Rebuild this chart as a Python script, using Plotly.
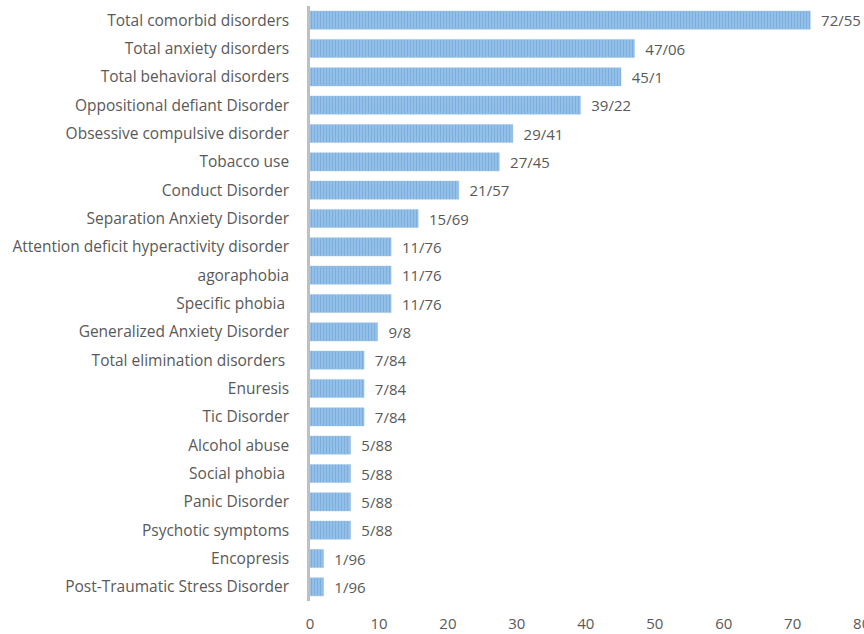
import plotly.graph_objects as go

categories = [
    "Total comorbid disorders", "Total anxiety disorders", "Total behavioral disorders",
    "Oppositional defiant Disorder", "Obsessive compulsive disorder", "Tobacco use",
    "Conduct Disorder", "Separation Anxiety Disorder",
    "Attention deficit hyperactivity disorder", "agoraphobia", "Specific phobia ",
    "Generalized Anxiety Disorder", "Total elimination disorders ", "Enuresis",
    "Tic Disorder", "Alcohol abuse", "Social phobia ", "Panic Disorder",
    "Psychotic symptoms", "Encopresis", "Post-Traumatic Stress Disorder",
]
values = [72.55, 47.06, 45.1, 39.22, 29.41, 27.45, 21.57, 15.69, 11.76, 11.76, 11.76,
          9.8, 7.84, 7.84, 7.84, 5.88, 5.88, 5.88, 5.88, 1.96, 1.96]
value_labels = ["72/55", "47/06", "45/1", "39/22", "29/41", "27/45", "21/57", "15/69",
                "11/76", "11/76", "11/76", "9/8", "7/84", "7/84", "7/84", "5/88", "5/88",
                "5/88", "5/88", "1/96", "1/96"]
x_ticks = [0, 10, 20, 30, 40, 50, 60, 70, 80]

font_family = "Open Sans, Liberation Sans, sans-serif"
text_color = "#595959"

fig = go.Figure(go.Bar(
    x=values,
    y=categories,
    orientation="h",
    text=["  " + t for t in value_labels],
    textposition="outside",
    constraintext="none",
    cliponaxis=False,
    textfont=dict(family=font_family, size=15, color=text_color),
    marker=dict(
        color="#8DB8E2",
        line=dict(color="#9DC3E6", width=0.5),
        pattern=dict(shape="|", fgcolor="#5B9BD5", bgcolor="#9CC3E8", size=3, solidity=0.5),
    ),
    width=0.64,
))

fig.update_layout(
    width=864, height=634,
    margin=dict(l=310, r=2, t=6, b=33, autoexpand=False),
    paper_bgcolor="white", plot_bgcolor="white",
    showlegend=False,
    font=dict(family=font_family, size=15.5, color=text_color),
    xaxis=dict(
        range=[0, 80.05], tickvals=x_ticks, showgrid=False, zeroline=False,
        showline=False, ticks="", ticklabelstandoff=12, ticklabeloverflow="allow",
        automargin=False, tickfont=dict(size=15, color=text_color),
    ),
    yaxis=dict(
        autorange="reversed", showgrid=False, zeroline=False, automargin=False,
        showline=True, linecolor="#BFBFBF", linewidth=2.5, ticks="",
        ticklabelstandoff=15, tickfont=dict(size=15.5, color=text_color),
    ),
)

fig.write_html("out.html")
